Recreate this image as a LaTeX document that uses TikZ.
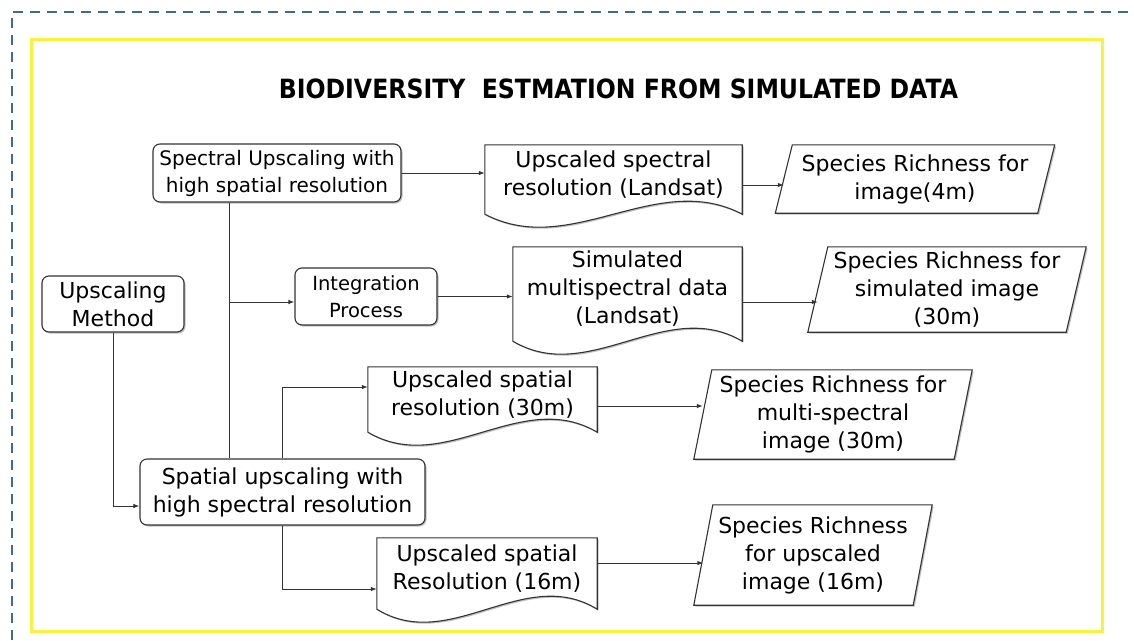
\documentclass[tikz,border=0pt]{standalone}
\usepackage{fontspec}
\setmainfont{DejaVu Sans}
\usepackage{graphicx}
\usetikzlibrary{arrows.meta,calc,shadows}
\definecolor{linec}{HTML}{333333}
\definecolor{dashblue}{HTML}{41689A}
\definecolor{frameyellow}{HTML}{F4F43C}
\pgfdeclarelayer{bg}
\pgfsetlayers{bg,main}
\newcommand\docshape[1]{\path[shp] let \p1=(#1.south west), \p2=(#1.north east) in (\x1,\y2) -- (\x2,\y2) -- (\x2,{\y1-10pt}) .. controls ({\x2-(\x2-\x1)/3},{\y1+35pt}) and ({\x1+(\x2-\x1)/3},{\y1-55pt}) .. (\x1,{\y1-10pt}) -- cycle;}
\newcommand\parashape[2]{\path[shp] ([xshift=#2]#1.north west) -- ([xshift=#2]#1.north east) -- ([xshift=-#2]#1.south east) -- ([xshift=-#2]#1.south west) -- cycle;}
\begin{document}
\begin{tikzpicture}[x=1pt,y=-1pt,
  lin/.style={draw=linec, line width=1pt},
  arr/.style={lin, -{Latex[length=6pt,width=4.5pt]}},
  shd/.style={drop shadow={shadow xshift=1.5pt,shadow yshift=-1.5pt,opacity=0.25,fill=black}},
  rbox/.style={draw=linec, line width=1.1pt, rounded corners=7pt, fill=white, shd, inner sep=0pt, align=center},
  txt/.style={inner sep=0pt, align=center},
  shp/.style={draw=linec, line width=1.1pt, fill=white, shd},
  big/.style={font=\fontsize{22}{28}\selectfont},
  small/.style={font=\fontsize{20}{27}\selectfont},
]
\useasboundingbox (0,0) rectangle (1134,640);
\begin{pgfonlayer}{bg}
\fill[white] (0,0) rectangle (1134,640);
\draw[dashblue, line width=1.5pt, dash pattern=on 10pt off 7pt] (12,640) -- (12,12) -- (1134,12);
\draw[frameyellow, line width=3pt] (31,39) rectangle (1102,631);
\end{pgfonlayer}

\node[inner sep=0pt] (title) at (618.5,89) {\scalebox{0.89}[1]{\fontsize{26.5}{30}\selectfont\bfseries BIODIVERSITY\ \ ESTMATION FROM SIMULATED DATA}};

\node[rbox, small, minimum width=248pt, minimum height=58pt] (spectral) at (277,173) {Spectral Upscaling with\\high spatial resolution};
\node[rbox, big, minimum width=142pt, minimum height=56pt] (method) at (113,304) {Upscaling\\Method};
\node[rbox, font=\fontsize{19.5}{26.5}\selectfont, minimum width=142pt, minimum height=57pt] (integ) at (366,296.5) {Integration\\Process};
\node[rbox, big, minimum width=285pt, minimum height=66pt] (spatial) at (282.5,492) {Spatial upscaling with\\high spectral resolution};

\node[txt, big, minimum width=257pt, minimum height=59pt] (docA) at (613.5,174.5) {Upscaled spectral\\resolution (Landsat)};
\node[txt, big, minimum width=229pt, minimum height=84pt] (docB) at (627.5,289) {Simulated\\multispectral data\\(Landsat)};
\node[txt, big, minimum width=229pt, minimum height=55pt] (docC) at (482.5,394.5) {Upscaled spatial\\resolution (30m)};
\node[txt, big, minimum width=220pt, minimum height=61pt] (docD) at (487,568.5) {Upscaled spatial\\Resolution (16m)};

\node[txt, big, minimum width=262pt, minimum height=68pt] (sr4) at (915,179) {Species Richness for\\image(4m)};
\node[txt, big, minimum width=258pt, minimum height=85pt] (srsim) at (947,289.5) {Species Richness for\\simulated image\\(30m)};
\node[txt, big, minimum width=260pt, minimum height=89pt] (srmul) at (833,414.5) {Species Richness for\\multi-spectral\\image (30m)};
\node[txt, big, minimum width=219pt, minimum height=100pt] (sr16) at (813,555) {Species Richness\\for upscaled\\image (16m)};

\begin{pgfonlayer}{bg}
\docshape{docA}
\docshape{docB}
\docshape{docC}
\docshape{docD}
\parashape{sr4}{8.5pt}
\parashape{srsim}{10pt}
\parashape{srmul}{9pt}
\parashape{sr16}{9.5pt}
\end{pgfonlayer}

\draw[arr] (spectral.east) -- (spectral.east -| docA.west);
\coordinate (aout) at ([yshift=-10.5pt]docA.east);
\draw[arr] (aout) -- (aout -| sr4.west);
\coordinate (trunkTop) at ([xshift=-48pt]spectral.south);
\draw[lin] (trunkTop) -- (trunkTop |- spatial.north);
\coordinate (intin) at ([yshift=-5.5pt]integ.west);
\draw[arr] (trunkTop |- intin) -- (intin);
\draw[arr] (integ.east) -- (integ.east -| docB.west);
\coordinate (bout) at ([yshift=-13pt]docB.east);
\draw[arr] (bout) -- (bout -| srsim.west);
\coordinate (spin) at ([yshift=-14pt]spatial.west);
\draw[arr] (method.south) |- (spin);
\coordinate (cin) at ([yshift=7.5pt]docC.west);
\draw[arr] (spatial.north) |- (cin);
\coordinate (din) at ([yshift=-20.5pt]docD.west);
\draw[arr] (spatial.south) |- (din);
\coordinate (cout) at ([yshift=-11.5pt]docC.east);
\draw[arr] (cout) -- (cout -| srmul.west);
\coordinate (dout) at ([yshift=5.5pt]docD.east);
\draw[arr] (dout) -- (dout -| sr16.west);
\end{tikzpicture}
\end{document}
